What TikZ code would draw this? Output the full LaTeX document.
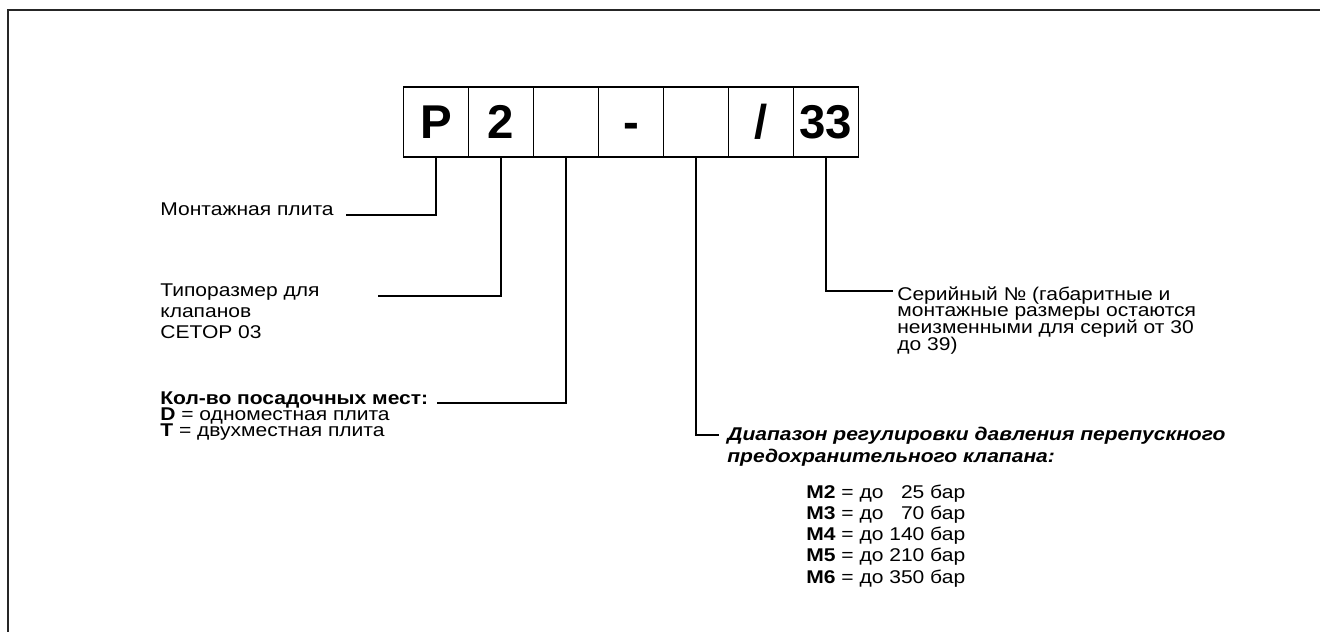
\documentclass[tikz,border=0pt]{standalone}
\usepackage{fontspec}
\setmainfont{Liberation Sans}[FakeStretch=1.14]
\newfontfamily\boxfont{Liberation Sans}
\usetikzlibrary{positioning}
\newcommand\lblfont{\fontsize{10.5}{9}\selectfont\lineskiplimit=-8pt\relax}
\newcommand\midfont{\fontsize{10.5}{9.5}\selectfont\lineskiplimit=-8pt\relax}
\newcommand\loosefont{\fontsize{10.5}{12}\selectfont\lineskiplimit=-8pt\relax}

\begin{document}
\begin{tikzpicture}[x=0.02cm,y=-0.02cm,
    cell/.style={draw, line width=0.8pt, minimum width=1.3cm, minimum height=1.4cm,
        inner sep=0pt, outer sep=0pt, text height=0.68cm, text depth=0cm,
        font=\boxfont\bfseries\fontsize{27}{27}\selectfont},
    conn/.style={line width=1.2pt},
    lbl/.style={inner sep=0pt, align=left, anchor=base west, font=\lblfont},
    loose/.style={font=\loosefont}]
    \useasboundingbox (0,0) rectangle (1320,632);
    \draw[line width=1.7pt, black!85] (8,632) -- (8,10) -- (1320,10);

    \node[cell] (c1) at (436,122) {P};
    \node[cell, right=0pt of c1] (c2) {2};
    \node[cell, right=0pt of c2] (c3) {};
    \node[cell, right=0pt of c3] (c4) {-};
    \node[cell, right=0pt of c4] (c5) {};
    \node[cell, right=0pt of c5] (c6) {/};
    \node[cell, right=0pt of c6] (c7) {33};

    \node[lbl] (plate) at (160,215) {Монтажная плита};
    \node[lbl, loose] (size) at (160,338.2) {Типоразмер для\\клапанов\\CETOP 03};
    \node[lbl] (seats) at (160,436.6) {\textbf{Кол-во посадочных мест:}\\\textbf{D} = одноместная плита\\\textbf{T} = двухместная плита};
    \node[lbl, font=\midfont] (serial) at (897,350.1) {Серийный № (габаритные и\\монтажные размеры остаются\\неизменными для серий от 30\\до 39)};
    \node[lbl, font=\loosefont\bfseries\itshape] (range) at (727,462) {Диапазон регулировки давления перепускного\\предохранительного клапана:};
    \node[lbl, loose] (grades) at (806,583) {\textbf{M2} = до \hphantom{1}25 бар\\\textbf{M3} = до \hphantom{1}70 бар\\\textbf{M4} = до 140 бар\\\textbf{M5} = до 210 бар\\\textbf{M6} = до 350 бар};

    \draw[conn] (c1.south) |- ([shift={(12,0)}]plate.base east);
    \draw[conn] (c2.south) |- ([shift={(58,-42.2)}]size.base east);
    \draw[conn] (c3.south) |- ([shift={(8,-33.6)}]seats.base east);
    \draw[conn] (c5.south) |- ([shift={(-8,-27)}]range.base west);
    \draw[conn] (c7.south) |- ([shift={(-4,-59.1)}]serial.base west);
\end{tikzpicture}
\end{document}
